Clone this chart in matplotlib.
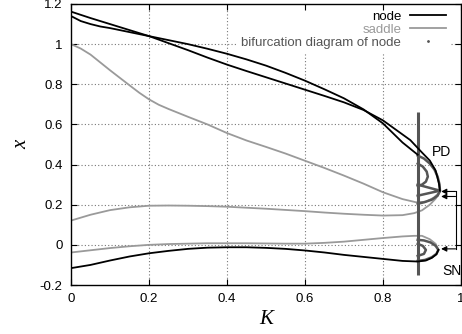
import matplotlib
matplotlib.use('Agg')
import matplotlib.pyplot as plt
from matplotlib.lines import Line2D

plt.rcParams['font.family'] = ['Liberation Sans', 'DejaVu Sans']

# --- datos ---
# nodos (negro)
k_n1 = [0, 0.05, 0.1, 0.15, 0.2, 0.25, 0.3, 0.35, 0.4, 0.45, 0.5, 0.55, 0.6, 0.65, 0.7, 0.75,
        0.8, 0.85, 0.87, 0.9, 0.92, 0.935, 0.943, 0.946]
x_n1 = [1.162, 1.13, 1.10, 1.07, 1.04, 1.005, 0.97, 0.933, 0.898, 0.866, 0.835, 0.804, 0.773,
        0.742, 0.71, 0.672, 0.62, 0.55, 0.522, 0.46, 0.42, 0.37, 0.31, 0.27]
k_n2 = [0, 0.025, 0.05, 0.075, 0.1, 0.15, 0.2, 0.25, 0.3, 0.35, 0.4, 0.45, 0.5, 0.55, 0.6, 0.65,
        0.7, 0.75, 0.8, 0.85, 0.889]
x_n2 = [1.14, 1.115, 1.10, 1.088, 1.08, 1.06, 1.04, 1.02, 1.0, 0.977, 0.952, 0.924, 0.893,
        0.857, 0.818, 0.775, 0.73, 0.675, 0.605, 0.51, 0.449]
k_n3 = [0, 0.05, 0.1, 0.15, 0.2, 0.25, 0.3, 0.35, 0.4, 0.45, 0.5, 0.55, 0.6, 0.65, 0.7, 0.75,
        0.8, 0.85, 0.889, 0.91, 0.925, 0.937, 0.942]
x_n3 = [-0.116, -0.1, -0.078, -0.058, -0.042, -0.03, -0.02, -0.014, -0.012, -0.012, -0.015,
        -0.02, -0.028, -0.038, -0.05, -0.06, -0.07, -0.08, -0.083, -0.078, -0.065, -0.047, -0.025]

# sillas (gris claro)
k_s1 = [0, 0.025, 0.05, 0.1, 0.15, 0.175, 0.2, 0.225, 0.25, 0.3, 0.35, 0.4, 0.45, 0.5, 0.55,
        0.6, 0.65, 0.7, 0.75, 0.8, 0.85, 0.885, 0.91, 0.93, 0.945]
x_s1 = [1.0, 0.978, 0.948, 0.87, 0.795, 0.758, 0.725, 0.698, 0.677, 0.638, 0.6, 0.557, 0.52,
        0.488, 0.455, 0.419, 0.383, 0.345, 0.305, 0.262, 0.228, 0.212, 0.215, 0.235, 0.262]
k_s2 = [0, 0.05, 0.1, 0.15, 0.2, 0.25, 0.3, 0.35, 0.4, 0.45, 0.5, 0.55, 0.6, 0.65, 0.7, 0.75,
        0.8, 0.85, 0.88, 0.9, 0.92, 0.935, 0.945]
x_s2 = [0.121, 0.15, 0.173, 0.187, 0.195, 0.196, 0.195, 0.193, 0.19, 0.185, 0.18, 0.174, 0.168,
        0.161, 0.155, 0.15, 0.146, 0.148, 0.158, 0.172, 0.2, 0.23, 0.26]
k_s3 = [0, 0.05, 0.1, 0.15, 0.2, 0.25, 0.3, 0.35, 0.4, 0.45, 0.5, 0.55, 0.6, 0.65, 0.7, 0.75,
        0.8, 0.85, 0.88, 0.9, 0.92, 0.935, 0.942]
x_s3 = [-0.038, -0.027, -0.016, -0.007, 0.0, 0.004, 0.006, 0.008, 0.008, 0.008, 0.007, 0.006,
        0.006, 0.01, 0.016, 0.025, 0.034, 0.042, 0.045, 0.045, 0.028, 0.005, -0.025]

# diagrama de bifurcacion del nodo (gris oscuro)
k_bar = [0.889, 0.889]
x_bar = [-0.15, 0.66]
k_pd_out = [0.889, 0.905, 0.92, 0.932, 0.94, 0.945, 0.946, 0.94, 0.925, 0.905, 0.889]
x_pd_out = [0.445, 0.43, 0.405, 0.375, 0.34, 0.30, 0.27, 0.245, 0.225, 0.212, 0.205]
k_pd_in = [0.889, 0.902, 0.912, 0.915, 0.91, 0.9, 0.889]
x_pd_in = [0.405, 0.39, 0.365, 0.34, 0.315, 0.3, 0.295]
k_pd_ray = [0.889, 0.946, 0.889]
x_pd_ray = [0.30, 0.27, 0.245]
k_sn_out = [0.889, 0.905, 0.922, 0.935, 0.942, 0.937, 0.925, 0.908, 0.889]
x_sn_out = [0.025, 0.022, 0.012, -0.005, -0.025, -0.045, -0.062, -0.075, -0.08]
k_sn_in = [0.889, 0.902, 0.91, 0.905, 0.889]
x_sn_in = [0.005, -0.005, -0.025, -0.045, -0.055]

# flechas PD / SN
arrow_y = [0.266, 0.241, -0.02]
arrow_k0 = 0.986
arrow_k1 = 0.949

xticks = [0, 0.2, 0.4, 0.6, 0.8, 1]
yticks = [-0.2, 0, 0.2, 0.4, 0.6, 0.8, 1, 1.2]

c_node = 'black'
c_saddle = '#9a9a9a'
c_bif = '#555555'

fig, ax = plt.subplots(figsize=(4.62, 3.34), dpi=100)
fig.subplots_adjust(left=71 / 462, right=461 / 462, bottom=49 / 334, top=330 / 334)

ax.set_xlim(0, 1)
ax.set_ylim(-0.2, 1.2)

# rejilla punteada a mano (debajo de la leyenda)
for t in xticks[1:-1]:
    ax.axvline(t, color='#777777', lw=0.8, ls=(0, (1, 2)), zorder=1.0)
for t in yticks[1:-1]:
    ax.axhline(t, color='#777777', lw=0.8, ls=(0, (1, 2)), zorder=1.0)

# sillas
for k, x in [(k_s1, x_s1), (k_s2, x_s2), (k_s3, x_s3)]:
    ax.plot(k, x, color=c_saddle, lw=1.3, zorder=2)

# bifurcacion
ax.plot(k_bar, x_bar, color=c_bif, lw=2.2, zorder=3, solid_capstyle='butt')
for k, x in [(k_pd_out, x_pd_out), (k_pd_in, x_pd_in), (k_pd_ray, x_pd_ray),
             (k_sn_out, x_sn_out), (k_sn_in, x_sn_in)]:
    ax.plot(k, x, color=c_bif, lw=1.8, zorder=3)

# nodos
for k, x in [(k_n1, x_n1), (k_n2, x_n2), (k_n3, x_n3)]:
    ax.plot(k, x, color=c_node, lw=1.3, zorder=4)

# flechas
ax.plot([arrow_k0, arrow_k0], [arrow_y[0], arrow_y[-1]], color='black', lw=0.8, zorder=4)
for y in arrow_y:
    ax.annotate('', xy=(arrow_k1, y), xytext=(arrow_k0, y),
                arrowprops=dict(arrowstyle='-|>', color='black', lw=0.8,
                                mutation_scale=8, shrinkA=0, shrinkB=0), zorder=4)

ax.text(0.926, 0.465, 'PD', ha='left', va='center', fontsize=10)
ax.text(0.951, -0.13, 'SN', ha='left', va='center', fontsize=10)

ax.set_xticks(xticks)
ax.set_yticks(yticks)
ax.set_xticklabels(['%g' % t for t in xticks])
ax.set_yticklabels(['%g' % t for t in yticks])
ax.tick_params(direction='in', length=4, width=0.8, top=True, right=True,
               labelsize=9.5, pad=6)
for s in ax.spines.values():
    s.set_linewidth(1.0)

ax.set_xlabel('K', family='Liberation Serif', style='italic', fontsize=15, labelpad=3)
ax.set_ylabel('x', family='Liberation Serif', style='italic', fontsize=15, labelpad=6)

handles = [Line2D([], [], color=c_node, lw=1.3),
           Line2D([], [], color=c_saddle, lw=1.3),
           Line2D([], [], color=c_bif, marker='.', markersize=2, ls='none')]
leg = ax.legend(handles, ['node', 'saddle', 'bifurcation diagram of node'],
                loc='upper right', bbox_to_anchor=(0.972, 0.99), markerfirst=False,
                fontsize=9.5, handlelength=2.7, handletextpad=0.7, labelspacing=0.05,
                borderpad=0.3, borderaxespad=0, frameon=True, fancybox=False,
                labelcolor=[c_node, c_saddle, c_bif])
leg.get_frame().set_facecolor('white')
leg.get_frame().set_edgecolor('none')
leg.get_frame().set_alpha(1)
leg.set_zorder(1.2)

fig.savefig('out.png', dpi=100)
